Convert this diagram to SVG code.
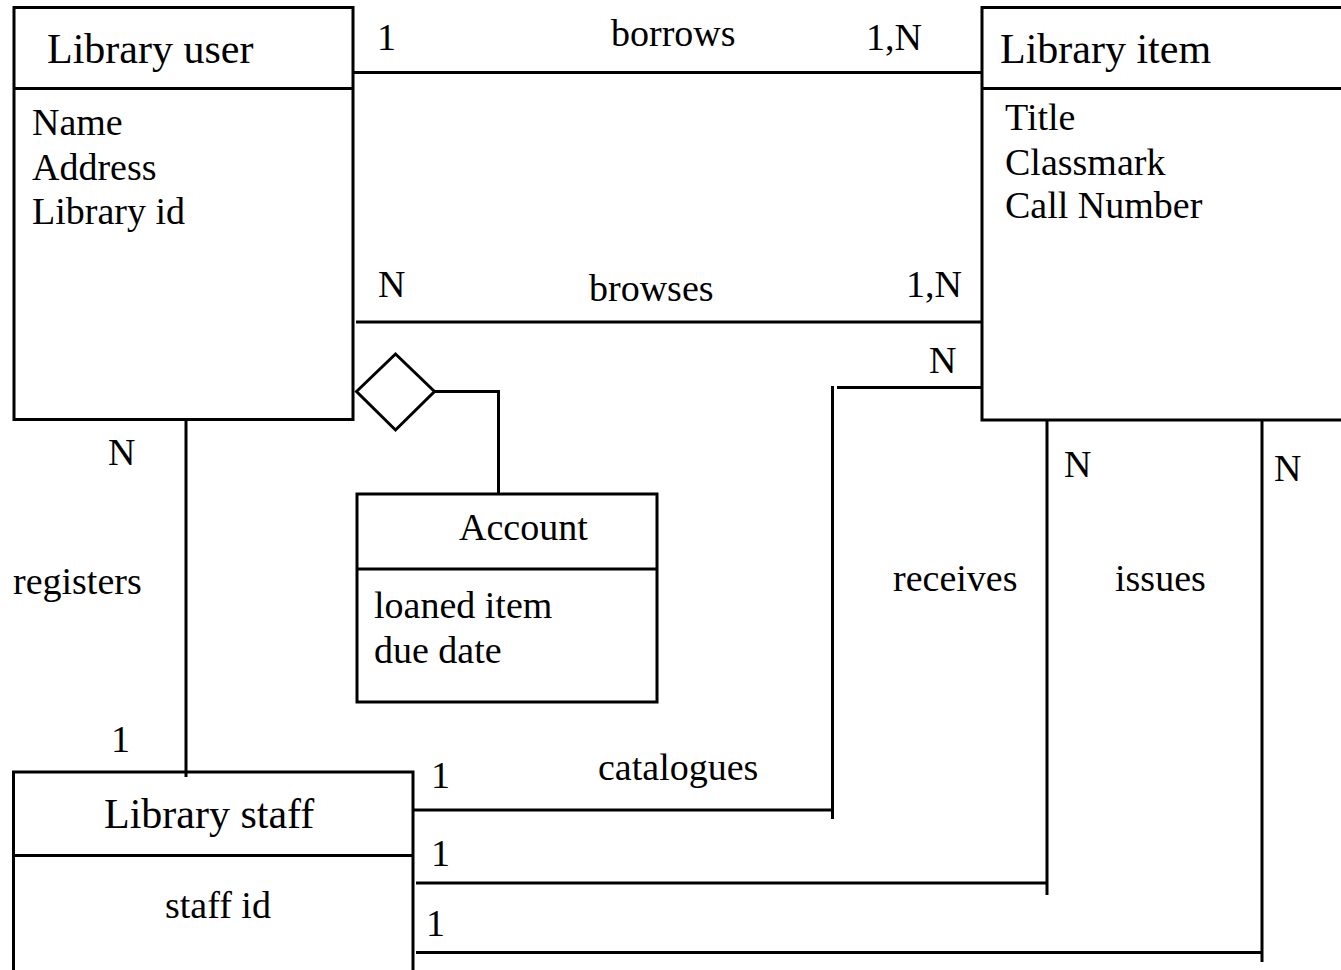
<svg xmlns="http://www.w3.org/2000/svg" width="1341" height="970" viewBox="0 0 1341 970">
  <style>
    .box { fill: #fff; stroke: #000; stroke-width: 3; }
    .ln { fill: none; stroke: #000; stroke-width: 3; }
    text { font-family: "Liberation Serif", "Times New Roman", serif; fill: #000; }
    .title { font-size: 42px; }
    .attr { font-size: 38px; }
    .lbl { font-size: 38px; }
  </style>
  <rect width="1341" height="970" fill="#fff"/>

  <g id="connectors">
    <!-- borrows -->
    <line class="ln" x1="353" y1="72.5" x2="981" y2="72.5"/>
    <!-- browses -->
    <line class="ln" x1="356" y1="322" x2="981" y2="322"/>
    <!-- receives / catalogues -->
    <polyline class="ln" points="981,387.5 837,387.5"/>
    <line class="ln" x1="832.5" y1="386" x2="832.5" y2="819"/>
    <line class="ln" x1="413" y1="810" x2="831" y2="810"/>
    <!-- issues 1 -->
    <line class="ln" x1="1047" y1="411" x2="1047" y2="895"/>
    <line class="ln" x1="416" y1="883" x2="1047" y2="883"/>
    <!-- issues 2 -->
    <line class="ln" x1="1262" y1="411" x2="1262" y2="962"/>
    <line class="ln" x1="416" y1="952.5" x2="1262" y2="952.5"/>
    <!-- registers -->
    <line class="ln" x1="186" y1="411" x2="186" y2="777"/>
    <!-- aggregation to Account -->
    <polyline class="ln" points="434,391.5 498.5,391.5 498.5,494"/>
    <polygon class="ln" points="356.5,391.5 395.5,354 434.5,391.5 395.5,430"/>

    <g id="connector-labels">
      <text class="lbl" x="377" y="50">1</text>
      <text class="lbl" x="611" y="46">borrows</text>
      <text class="lbl" x="866" y="50">1,N</text>
      <text class="lbl" x="378" y="297">N</text>
      <text class="lbl" x="589" y="301">browses</text>
      <text class="lbl" x="906" y="297">1,N</text>
      <text class="lbl" x="929" y="373">N</text>
      <text class="lbl" x="108" y="465">N</text>
      <text class="lbl" x="13" y="594">registers</text>
      <text class="lbl" x="111" y="752">1</text>
      <text class="lbl" x="893" y="591">receives</text>
      <text class="lbl" x="1115" y="591">issues</text>
      <text class="lbl" x="1064" y="477">N</text>
      <text class="lbl" x="1274" y="481">N</text>
      <text class="lbl" x="598" y="780">catalogues</text>
      <text class="lbl" x="431" y="788">1</text>
      <text class="lbl" x="431" y="866">1</text>
      <text class="lbl" x="426" y="936">1</text>
    </g>
  </g>

  <g id="library-user">
    <rect class="box" x="14" y="7.5" width="339" height="412"/>
    <line class="ln" x1="14" y1="88.5" x2="353" y2="88.5"/>
    <text class="title" x="47" y="63">Library user</text>
    <text class="attr" x="32" y="135">Name</text>
    <text class="attr" x="32" y="180">Address</text>
    <text class="attr" x="32" y="224">Library id</text>
  </g>

  <g id="library-item">
    <rect class="box" x="982" y="7.5" width="370" height="412.5"/>
    <line class="ln" x1="982" y1="88.5" x2="1352" y2="88.5"/>
    <text class="title" x="1000" y="63">Library item</text>
    <text class="attr" x="1005" y="130">Title</text>
    <text class="attr" x="1005" y="175">Classmark</text>
    <text class="attr" x="1005" y="218">Call Number</text>
  </g>

  <g id="account">
    <rect class="box" x="357" y="494" width="300" height="208"/>
    <line class="ln" x1="357" y1="569" x2="657" y2="569"/>
    <text class="attr" x="459" y="540">Account</text>
    <text class="attr" x="374" y="618">loaned item</text>
    <text class="attr" x="374" y="663">due date</text>
  </g>

  <g id="library-staff">
    <rect class="box" x="13.5" y="772" width="399.5" height="210"/>
    <line class="ln" x1="13.5" y1="855.5" x2="413" y2="855.5"/>
    <text class="title" x="104" y="828">Library staff</text>
    <text class="attr" x="165" y="918">staff id</text>
  </g>
  <line class="ln" x1="186" y1="772" x2="186" y2="777"/>
</svg>
